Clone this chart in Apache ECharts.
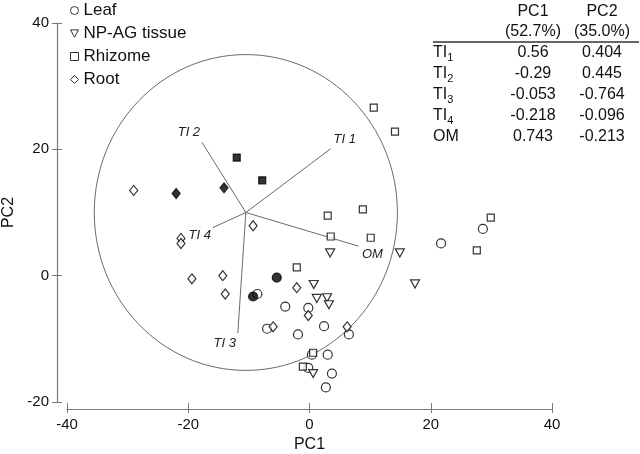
<!DOCTYPE html>
<html>
<head>
<meta charset="utf-8">
<script src="https://cdn.jsdelivr.net/npm/echarts@6/dist/echarts.min.js"></script>
<style>
html, body { margin: 0; padding: 0; background: #fff; }
#chart { width: 640px; height: 454px; }
</style>
</head>
<body>
<div id="chart"></div>
<script>
// sample scores (PC1, PC2)
var leafOpen = [[21.7, 5.1], [28.6, 7.4], [-4.0, -4.9], [-0.2, -5.1], [-8.6, -2.9], [-7.0, -8.4], [-1.9, -9.3],
    [2.4, -8.0], [6.5, -9.3], [0.4, -12.5], [3.0, -12.5], [-0.2, -14.6], [3.7, -15.5], [2.7, -17.7]];
var leafFilled = [[-5.4, -0.3], [-9.3, -3.3]];
var npagOpen = [[3.4, 3.6], [0.7, -1.4], [1.2, -3.6], [2.9, -3.5], [3.2, -4.6], [0.6, -15.5], [14.9, 3.6], [17.4, -1.3]];
var rhizomeOpen = [[10.6, 26.6], [14.1, 22.8], [3.0, 9.5], [8.8, 10.5], [29.9, 9.2], [27.6, 4.0], [10.1, 6.0],
    [3.5, 6.2], [-2.1, 1.3], [0.6, -12.2], [-1.1, -14.4]];
var rhizomeFilled = [[-12.0, 18.7], [-7.8, 15.1]];
var rootOpen = [[-29.0, 13.5], [-9.3, 7.9], [-21.2, 5.9], [-21.2, 5.1], [-19.4, -0.5], [-14.3, 0.0], [-13.9, -2.9],
    [-2.1, -1.9], [-0.2, -6.3], [-6.0, -8.1], [6.2, -8.1]];
var rootFilled = [[-22.0, 13.0], [-14.1, 13.9]];

// loadings table
var varNames = ['TI', 'TI', 'TI', 'TI', 'OM'];
var varSubs = ['1', '2', '3', '4', ''];
var vecLabels = ['TI 1', 'TI 2', 'TI 3', 'TI 4', 'OM'];
var pc1Load = [0.56, -0.29, -0.053, -0.218, 0.743];
var pc2Load = [0.404, 0.445, -0.764, -0.096, -0.213];
var pcHeads = ['PC1', 'PC2'];
var pcPct = ['(52.7%)', '(35.0%)'];

// correlation circle: centre and radius in score units
var circleCentre = [-10.5, 10.0];
var circleRadius = 25;

var xTicks = { min: -40, max: 40, interval: 20 };
var yTicks = { min: -20, max: 40, interval: 20 };

var FONT = '"Liberation Sans", Arial, sans-serif';
var AXIS_GREY = '#7a7a7a';
var LINE_GREY = '#6a6a6a';

// label offsets (px) from each vector tip
var labelOff = [[14, -9], [-13, -10], [-13, 10], [-13, 8], [14, 8]];

function pts(open, filled) {
    var out = open.slice();
    (filled || []).forEach(function (p) {
        out.push({ value: p, itemStyle: { color: '#000' } });
    });
    return out;
}

var chart = echarts.init(document.getElementById('chart'));

var tableEls = [];
var colX = [533, 602];
var rowY = [53, 74, 95, 116, 137];
for (var c = 0; c < 2; c++) {
    tableEls.push({ type: 'text', x: colX[c], y: 12, style: { text: pcHeads[c], font: '16px ' + FONT, fill: '#111', align: 'center', verticalAlign: 'middle' } });
    tableEls.push({ type: 'text', x: colX[c], y: 32, style: { text: pcPct[c], font: '16px ' + FONT, fill: '#111', align: 'center', verticalAlign: 'middle' } });
}
tableEls.push({ type: 'line', shape: { x1: 433, y1: 42, x2: 639, y2: 42 }, style: { stroke: '#333', lineWidth: 1.5 } });
for (var i = 0; i < varNames.length; i++) {
    tableEls.push({
        type: 'text', x: 433, y: rowY[i],
        style: {
            text: varNames[i] + (varSubs[i] ? '{s|' + varSubs[i] + '}' : ''),
            font: '16px ' + FONT, fill: '#111', align: 'left', verticalAlign: 'middle',
            rich: { s: { fontSize: 11, fontFamily: FONT, fill: '#111', padding: [9, 0, 0, 0] } }
        }
    });
    tableEls.push({ type: 'text', x: colX[0], y: rowY[i], style: { text: String(pc1Load[i]), font: '16px ' + FONT, fill: '#111', align: 'center', verticalAlign: 'middle' } });
    tableEls.push({ type: 'text', x: colX[1], y: rowY[i], style: { text: String(pc2Load[i]), font: '16px ' + FONT, fill: '#111', align: 'center', verticalAlign: 'middle' } });
}

var hollow = { color: '#fff', borderColor: '#000', borderWidth: 1.2 };

var option = {
    backgroundColor: '#fff',
    animation: false,
    textStyle: { fontFamily: FONT },
    grid: { left: 67, right: 88, top: 23, bottom: 52, outerBoundsMode: 'none', containLabel: false },
    legend: {
        data: ['Leaf', 'NP-AG tissue', 'Rhizome', 'Root'],
        orient: 'vertical',
        left: 70,
        top: 2,
        padding: 0,
        itemWidth: 8,
        itemHeight: 8,
        itemGap: 6,
        itemStyle: { borderWidth: 1 },
        textStyle: { fontSize: 17, color: '#111', lineHeight: 17 }
    },
    xAxis: [
        {
            type: 'value', min: xTicks.min, max: xTicks.max, interval: xTicks.interval,
            offset: 7,
            name: 'PC1', nameLocation: 'middle', nameGap: 23,
            nameTextStyle: { fontSize: 16, color: '#111' },
            axisLine: { onZero: false, lineStyle: { color: AXIS_GREY, width: 1.2 } },
            axisTick: { length: 4, lineStyle: { color: AXIS_GREY } },
            axisLabel: { fontSize: 15, color: '#111', margin: 8 },
            splitLine: { show: false }
        },
        {
            type: 'value', min: xTicks.min, max: xTicks.max, interval: xTicks.interval,
            offset: 7, position: 'bottom',
            axisLine: { show: false, onZero: false },
            axisTick: { inside: true, length: 6, lineStyle: { color: AXIS_GREY } },
            axisLabel: { show: false },
            splitLine: { show: false }
        }
    ],
    yAxis: [
        {
            type: 'value', min: yTicks.min, max: yTicks.max, interval: yTicks.interval,
            offset: 10,
            name: 'PC2', nameLocation: 'middle', nameGap: 39, nameRotate: 90,
            nameTextStyle: { fontSize: 16, color: '#111' },
            axisLine: { onZero: false, lineStyle: { color: AXIS_GREY, width: 1.2 } },
            axisTick: { length: 5, lineStyle: { color: AXIS_GREY } },
            axisLabel: { fontSize: 15, color: '#111', margin: 8 },
            splitLine: { show: false }
        },
        {
            type: 'value', min: yTicks.min, max: yTicks.max, interval: yTicks.interval,
            offset: 10, position: 'left',
            axisLine: { show: false, onZero: false },
            axisTick: { inside: true, length: 5, lineStyle: { color: AXIS_GREY } },
            axisLabel: { show: false },
            splitLine: { show: false }
        }
    ],
    graphic: tableEls,
    series: [
        {
            // correlation circle (round in score units, so slightly oval on screen)
            type: 'custom',
            silent: true,
            z: 1,
            data: [[circleCentre[0], circleCentre[1], circleRadius]],
            renderItem: function (params, api) {
                var ctr = api.coord([api.value(0), api.value(1)]);
                var sz = api.size([api.value(2), api.value(2)]);
                return {
                    type: 'ellipse',
                    shape: { cx: ctr[0], cy: ctr[1], rx: sz[0], ry: sz[1] },
                    style: { fill: 'none', stroke: LINE_GREY, lineWidth: 1 }
                };
            }
        },
        {
            // loading vectors, scaled to the circle
            type: 'custom',
            silent: true,
            z: 1,
            data: pc1Load.map(function (v, k) { return [v, pc2Load[k]]; }),
            renderItem: function (params, api) {
                var k = params.dataIndex;
                var p0 = api.coord(circleCentre);
                var p1 = api.coord([circleCentre[0] + circleRadius * api.value(0),
                                    circleCentre[1] + circleRadius * api.value(1)]);
                return {
                    type: 'group',
                    children: [
                        { type: 'line', shape: { x1: p0[0], y1: p0[1], x2: p1[0], y2: p1[1] },
                          style: { stroke: LINE_GREY, lineWidth: 1 } },
                        { type: 'text', x: p1[0] + labelOff[k][0], y: p1[1] + labelOff[k][1],
                          style: { text: vecLabels[k], font: 'italic 13px ' + FONT, fill: '#222',
                                   align: 'center', verticalAlign: 'middle' } }
                    ]
                };
            }
        },
        {
            name: 'Leaf', type: 'scatter', symbol: 'circle', symbolSize: 9,
            itemStyle: hollow, z: 3, data: pts(leafOpen, leafFilled)
        },
        {
            name: 'NP-AG tissue', type: 'scatter', symbol: 'path://M0,0L10,0L5,9Z', symbolSize: [9, 8],
            itemStyle: hollow, z: 3, data: pts(npagOpen)
        },
        {
            name: 'Rhizome', type: 'scatter', symbol: 'rect', symbolSize: 7,
            itemStyle: hollow, z: 3, data: pts(rhizomeOpen, rhizomeFilled)
        },
        {
            name: 'Root', type: 'scatter', symbol: 'diamond', symbolSize: [8, 10],
            itemStyle: hollow, z: 3, data: pts(rootOpen, rootFilled)
        }
    ]
};

chart.setOption(option);
window.addEventListener('resize', function () {
    chart.resize();
});
</script>
</body>
</html>
